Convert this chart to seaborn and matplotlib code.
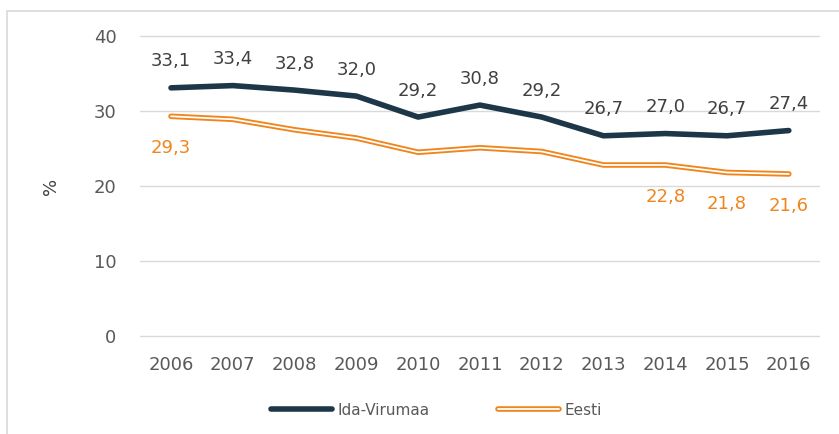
import matplotlib
matplotlib.use("Agg")
import matplotlib.pyplot as plt
import matplotlib.patheffects as pe
import seaborn as sns
import pandas as pd

years = ["2006", "2007", "2008", "2009", "2010", "2011", "2012", "2013", "2014", "2015", "2016"]
ida_virumaa = [33.1, 33.4, 32.8, 32.0, 29.2, 30.8, 29.2, 26.7, 27.0, 26.7, 27.4]
eesti = [29.3, 28.9, 27.5, 26.4, 24.5, 25.1, 24.6, 22.8, 22.8, 21.8, 21.6]
eesti_labelled = ["2006", "2014", "2015", "2016"]

navy = "#1d3648"
orange = "#f0851c"
text_grey = "#595959"

sns.set_style("white")
plt.rcParams["font.family"] = ["DejaVu Sans"]

df = pd.DataFrame({"Aasta": years * 2,
                   "Väärtus": ida_virumaa + eesti,
                   "Piirkond": ["Ida-Virumaa"] * len(years) + ["Eesti"] * len(years)})

fig = plt.figure(figsize=(8.39, 4.34), dpi=100)
ax = fig.add_axes([0.167, 0.222, 0.81, 0.699])

sns.lineplot(data=df[df["Piirkond"] == "Ida-Virumaa"], x="Aasta", y="Väärtus",
             color=navy, linewidth=4, ax=ax, label="Ida-Virumaa", sort=False)
sns.lineplot(data=df[df["Piirkond"] == "Eesti"], x="Aasta", y="Väärtus",
             color="white", linewidth=1.3, ax=ax, label="Eesti", sort=False,
             path_effects=[pe.Stroke(linewidth=4, foreground=orange), pe.Normal()])

for i, v in enumerate(ida_virumaa):
    ax.annotate(f"{v:.1f}".replace(".", ","), (i, v), xytext=(0, 19), textcoords="offset points",
                ha="center", va="center", fontsize=13, color="#404040")
for i, v in enumerate(eesti):
    if years[i] in eesti_labelled:
        ax.annotate(f"{v:.1f}".replace(".", ","), (i, v), xytext=(0, -23), textcoords="offset points",
                    ha="center", va="center", fontsize=13, color=orange)

ax.set_ylim(-0.25, 40.25)
ax.set_yticks([0, 10, 20, 30, 40])
ax.set_xlim(-0.5, len(years) - 0.5)
ax.grid(axis="y", color="#d9d9d9", linewidth=1)
ax.set_axisbelow(True)
for s in ax.spines.values():
    s.set_visible(False)
ax.tick_params(axis="both", length=0, labelsize=13, colors=text_grey)
ax.tick_params(axis="x", pad=13)
ax.tick_params(axis="y", pad=17)
ax.set_xlabel("")
ax.set_ylabel("%", fontsize=13, color="#404040", labelpad=24)

handles, labels = ax.get_legend_handles_labels()
ax.legend(handles, labels, loc="center", bbox_to_anchor=(0.436, -0.239), ncol=2, frameon=False,
          fontsize=11, labelcolor=text_grey, handlelength=4.0, columnspacing=4.5, handletextpad=0.35)

fig.patches.append(plt.Rectangle((7 / 839, -0.1), 1.2, 1 - 11 / 434 + 0.1, transform=fig.transFigure,
                                 fill=False, edgecolor="#d9d9d9", linewidth=1.2))

fig.savefig("out.png", dpi=100)
